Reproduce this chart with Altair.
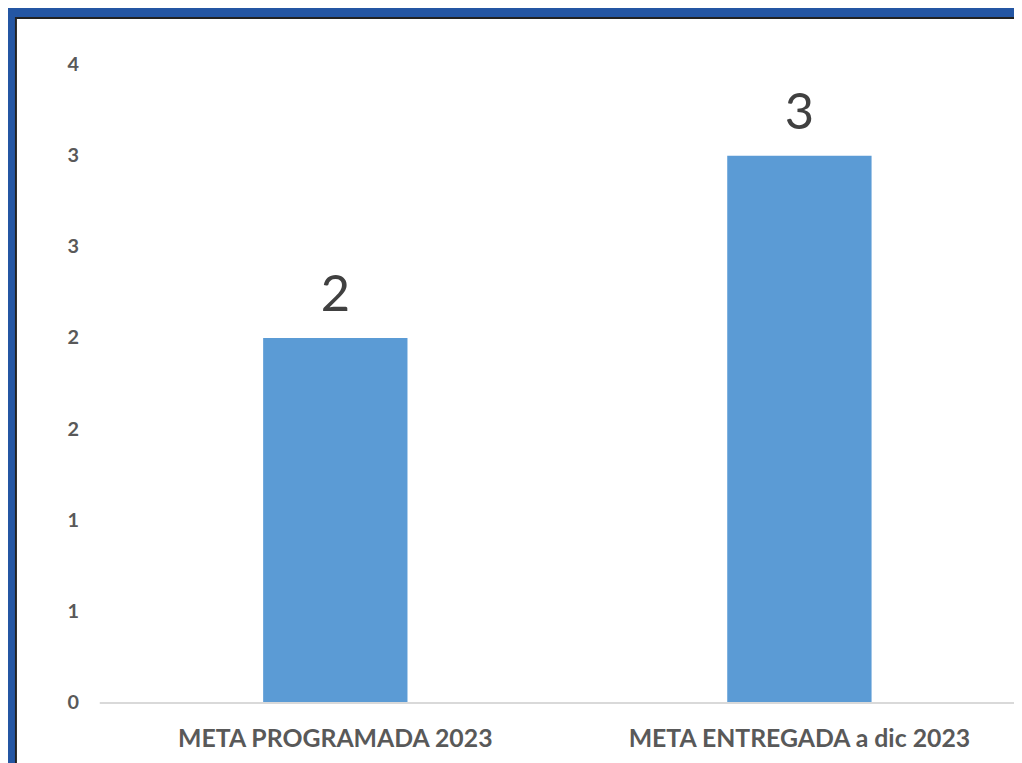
import altair as alt
import pandas as pd

categories = ["META PROGRAMADA 2023", "META ENTREGADA a dic 2023"]
values = [2, 3]
y_ticks = [0, 0.5, 1, 1.5, 2, 2.5, 3, 3.5]

df = pd.DataFrame({"cat": categories, "val": values})

W, H = 922, 643
PAD_L, PAD_T, PAD_B = 92, 54, 58

x_enc = alt.X("cat:N", sort=categories, title=None,
              scale=alt.Scale(paddingInner=0.689, paddingOuter=0.33, align=0.535),
              axis=alt.Axis(labelAngle=0, labelFont="Lato", labelFontWeight="bold",
                            labelFontSize=25, labelColor="#595959", labelPadding=24,
                            labelLimit=0,
                            domainColor="#d9d9d9", domainWidth=2, ticks=False, zindex=1))
y_enc = alt.Y("val:Q", title=None,
              scale=alt.Scale(domain=[0, 3.5], nice=False),
              axis=alt.Axis(values=y_ticks, labelExpr="round(datum.value)",
                            labelFont="Lato", labelFontWeight="bold", labelFontSize=20,
                            labelColor="#595959", labelPadding=21, grid=False,
                            domain=False, ticks=False, zindex=1))

panel = alt.Chart(pd.DataFrame({"d": [0]})).mark_rect(
    fill="white", stroke="#222222", strokeWidth=2
).encode(
    x=alt.value(-PAD_L + 8), x2=alt.value(W + 4),
    y=alt.value(-PAD_T + 7), y2=alt.value(H + PAD_B + 4),
)

bars = alt.Chart(df).mark_bar(color="#5b9bd5").encode(x=x_enc, y=y_enc)
labels = alt.Chart(df).mark_text(
    font="Lato", fontSize=51, color="#404040", baseline="alphabetic", dy=-27
).encode(x=alt.X("cat:N", sort=categories), y="val:Q", text="val:Q")

chart = alt.layer(panel, bars, labels).properties(
    width=W, height=H,
    background="#2456a3",
    padding={"left": PAD_L, "top": PAD_T, "right": 0, "bottom": PAD_B},
    autosize=alt.AutoSizeParams(type="none"),
).configure_view(stroke=None)

chart.save("out.html", embed_options={"renderer": "svg", "actions": False})
